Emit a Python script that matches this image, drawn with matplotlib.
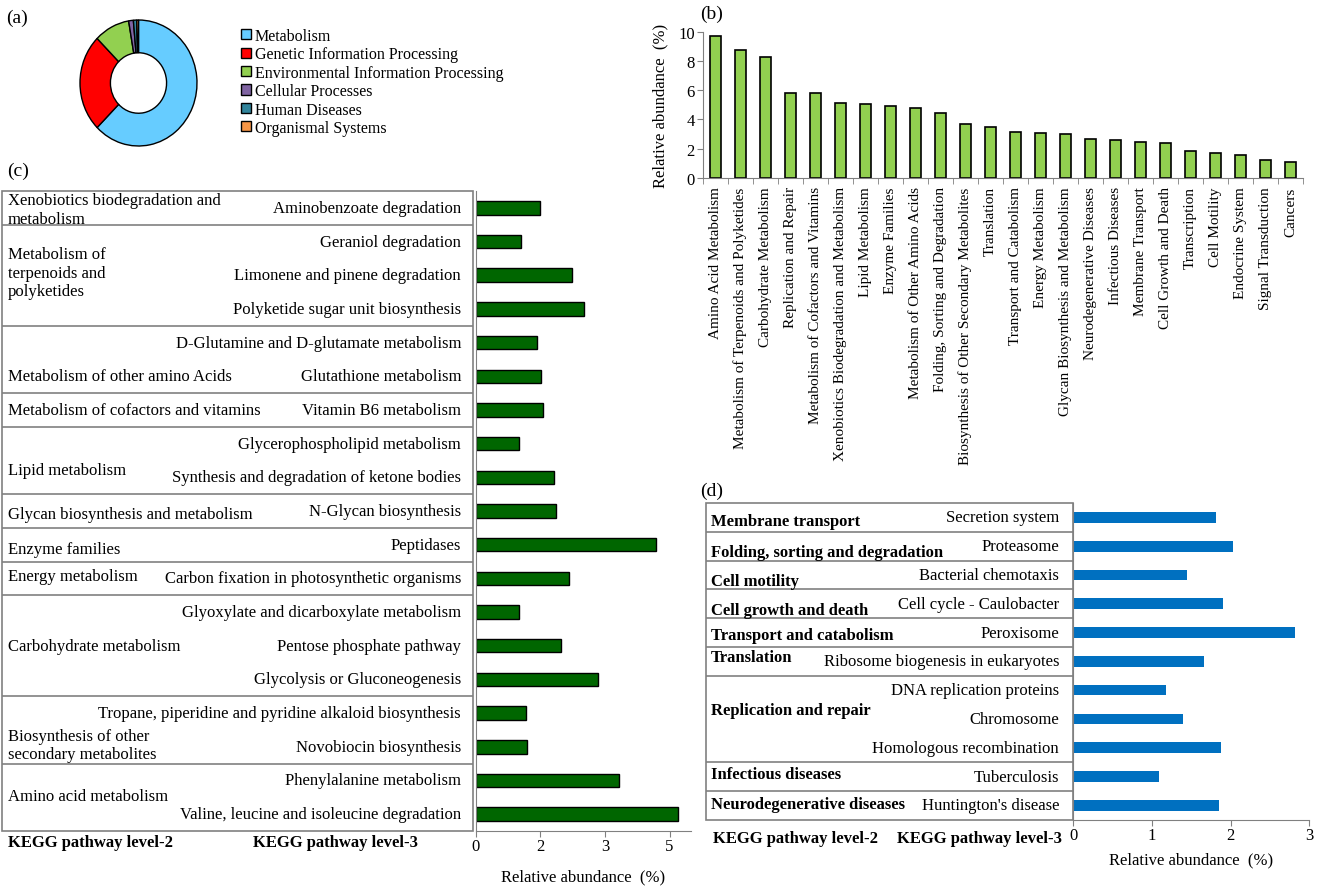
import matplotlib
matplotlib.use("Agg")
import matplotlib.pyplot as plt
from matplotlib.patches import Rectangle

plt.rcParams['font.family'] = ['Liberation Serif', 'DejaVu Serif']

W, H = 1325, 887

# (a) KEGG level-1 share (%)
level1_names = ["Metabolism", "Genetic Information Processing",
                "Environmental Information Processing", "Cellular Processes",
                "Human Diseases", "Organismal Systems"]
level1_share = [62.5, 25.0, 9.8, 1.3, 0.9, 0.5]
level1_colors = ["#66CCFF", "#FF0000", "#92D050", "#8064A2", "#31849B", "#F79646"]

# (b) KEGG level-2 relative abundance (%)
level2_names = ["Amino Acid Metabolism", "Metabolism of Terpenoids and Polyketides",
                "Carbohydrate Metabolism", "Replication and Repair",
                "Metabolism of Cofactors and Vitamins",
                "Xenobiotics Biodegradation and Metabolism", "Lipid Metabolism",
                "Enzyme Families", "Metabolism of Other Amino Acids",
                "Folding, Sorting and Degradation",
                "Biosynthesis of Other Secondary Metabolites", "Translation",
                "Transport and Catabolism", "Energy Metabolism",
                "Glycan Biosynthesis and Metabolism", "Neurodegenerative Diseases",
                "Infectious Diseases", "Membrane Transport", "Cell Growth and Death",
                "Transcription", "Cell Motility", "Endocrine System",
                "Signal Transduction", "Cancers"]
level2_abund = [9.72, 8.78, 8.30, 5.81, 5.81, 5.15, 5.03, 4.94, 4.78, 4.41, 3.71, 3.50,
                3.13, 3.06, 3.02, 2.65, 2.59, 2.47, 2.36, 1.85, 1.74, 1.60, 1.24, 1.10]

# (c) level-2 groups and level-3 pathways
c_groups = ["Xenobiotics biodegradation and\nmetabolism",
            "Metabolism of\nterpenoids and\npolyketides",
            "Metabolism of other amino Acids",
            "Metabolism of cofactors and vitamins",
            "Lipid metabolism",
            "Glycan biosynthesis and metabolism",
            "Enzyme families",
            "Energy metabolism",
            "Carbohydrate metabolism",
            "Biosynthesis of other\nsecondary metabolites",
            "Amino acid metabolism"]
c_group_sizes = [1, 3, 2, 1, 2, 1, 1, 1, 3, 2, 2]
c_pathways = ["Aminobenzoate degradation", "Geraniol degradation",
              "Limonene and pinene degradation", "Polyketide sugar unit biosynthesis",
              "D-Glutamine and D-glutamate metabolism", "Glutathione metabolism",
              "Vitamin B6 metabolism", "Glycerophospholipid metabolism",
              "Synthesis and degradation of ketone bodies", "N-Glycan biosynthesis",
              "Peptidases", "Carbon fixation in photosynthetic organisms",
              "Glyoxylate and dicarboxylate metabolism", "Pentose phosphate pathway",
              "Glycolysis or Gluconeogenesis",
              "Tropane, piperidine and pyridine alkaloid biosynthesis",
              "Novobiocin biosynthesis", "Phenylalanine metabolism",
              "Valine, leucine and isoleucine degradation"]
c_abund = [1.59, 1.12, 2.38, 2.68, 1.51, 1.62, 1.66, 1.08, 1.95, 2.00, 4.47,
           2.31, 1.07, 2.11, 3.02, 1.25, 1.27, 3.55, 5.00]
c_tick_vals = [0, 1.6, 3.2, 4.8]
c_tick_text = ["0", "2", "3", "5"]

# (d)
d_groups = ["Membrane transport", "Folding, sorting and degradation", "Cell motility",
            "Cell growth and death", "Transport and catabolism", "Translation",
            "Replication and repair", "Infectious diseases", "Neurodegenerative diseases"]
d_group_sizes = [1, 1, 1, 1, 1, 1, 3, 1, 1]
d_pathways = ["Secretion system", "Proteasome", "Bacterial chemotaxis",
              "Cell cycle - Caulobacter", "Peroxisome", "Ribosome biogenesis in eukaryotes",
              "DNA replication proteins", "Chromosome", "Homologous recombination",
              "Tuberculosis", "Huntington's disease"]
d_abund = [1.82, 2.03, 1.44, 1.90, 2.82, 1.66, 1.18, 1.40, 1.88, 1.09, 1.85]

# small vertical nudges of the level-2 labels (rows)
c_nudge = [0.05, -0.07, 0.5, 0.0, 0.28, 0.1, 0.12, -0.08, 0.0, 0.45, -0.05]
d_nudge = [0.14, 0.19, 0.22, 0.2, 0.1, -0.14, -0.32, -0.07, -0.05]

GRAY = "#808080"
FS = 12


def box(x0, y0, x1, y1):
    return [x0 / W, 1 - y1 / H, (x1 - x0) / W, (y1 - y0) / H]


def draw_table(ax, groups, sizes, pathways, nudges, l2x, l3x, weight):
    n = len(pathways)
    ax.set_xlim(0, 1)
    ax.set_ylim(n - 0.5, -0.5)
    ax.axis("off")
    ax.add_patch(Rectangle((0, -0.5), 1, n, fill=False, edgecolor=GRAY, lw=1.2,
                           clip_on=False))
    start = 0
    for name, size, nud in zip(groups, sizes, nudges):
        ax.text(l2x, start + (size - 1) / 2 + nud, name, ha="left", va="center",
                fontsize=FS, fontweight=weight, linespacing=1.2)
        start += size
        if start < n:
            ax.plot([0, 1], [start - 0.5] * 2, color=GRAY, lw=1.2)
    for i, p in enumerate(pathways):
        ax.text(l3x, i, p, ha="right", va="center", fontsize=FS)


def style_hbar(ax):
    for s in ["top", "right"]:
        ax.spines[s].set_visible(False)
    for s in ["left", "bottom"]:
        ax.spines[s].set_color(GRAY)
    ax.set_yticks([])
    ax.tick_params(axis="x", length=4, color=GRAY, labelsize=FS, pad=1)


fig = plt.figure(figsize=(W / 100, H / 100), dpi=100)

# ---- (a) donut
axa = fig.add_axes(box(80, 21, 197, 147))
wedges, _ = axa.pie(level1_share, colors=level1_colors, startangle=90,
                    counterclock=False,
                    wedgeprops=dict(width=0.52, edgecolor="black", linewidth=1))
axa.set_aspect("auto")
axa.set_xlim(-1, 1)
axa.set_ylim(-1, 1)
fig.legend(wedges, level1_names, loc="upper left", bbox_to_anchor=(241 / W, 1 - 29 / H),
           frameon=False, fontsize=11.5, handlelength=0.6, handleheight=0.6,
           handletextpad=0.25, labelspacing=0.15, borderpad=0, borderaxespad=0)
fig.text(6 / W, 1 - 18 / H, "(a)", fontsize=14, va="center")

# ---- (b) level-2 bars
axb = fig.add_axes(box(703, 32.7, 1303, 179))
xb = list(range(len(level2_names)))
axb.bar(xb, level2_abund, width=0.42, color="#92D050", edgecolor="black", lw=1.2)
axb.set_xlim(-0.5, len(xb) - 0.5)
axb.set_ylim(0, 10)
axb.set_yticks(range(0, 11, 2))
axb.set_xticks(xb)
axb.set_xticklabels(level2_names, rotation=90, fontsize=11)
axb.set_xticks([i - 0.5 for i in range(len(xb) + 1)], minor=True)
axb.tick_params(axis="x", which="major", length=0, pad=6)
axb.tick_params(axis="x", which="minor", length=4, color=GRAY)
axb.tick_params(axis="y", length=4, color=GRAY, labelsize=FS, pad=2)
for s in ["top", "right"]:
    axb.spines[s].set_visible(False)
for s in ["left", "bottom"]:
    axb.spines[s].set_color(GRAY)
axb.set_ylabel("Relative abundance  (%)", fontsize=FS)
axb.yaxis.set_label_coords(-0.058, 0.5)
fig.text(700 / W, 1 - 14 / H, "(b)", fontsize=14, va="center")

# ---- (c) table + bars
fig.text(7 / W, 1 - 171 / H, "(c)", fontsize=14, va="center")
axct = fig.add_axes(box(2, 192, 472.7, 832))
draw_table(axct, c_groups, c_group_sizes, c_pathways, c_nudge,
           (8 - 2) / 470.7, (461 - 2) / 470.7, "normal")
axc = fig.add_axes(box(475.7, 192, 691, 832))
yc = list(range(len(c_pathways)))
axc.barh(yc, c_abund, height=0.4, color="#006600", edgecolor="black", lw=1)
axc.set_ylim(len(yc) - 0.5, -0.5)
axc.set_xlim(0, 5.33)
axc.set_xticks(c_tick_vals)
axc.set_xticklabels(c_tick_text)
style_hbar(axc)
axc.set_xlabel("Relative abundance  (%)", fontsize=FS)
axc.xaxis.set_label_coords(0.5, -0.059)
fig.text(8 / W, 1 - 843 / H, "KEGG pathway level-2", fontsize=FS,
         fontweight="bold", va="center")
fig.text(253 / W, 1 - 843 / H, "KEGG pathway level-3", fontsize=FS,
         fontweight="bold", va="center")

# ---- (d) table + bars
fig.text(700 / W, 1 - 491 / H, "(d)", fontsize=14, va="center")
axdt = fig.add_axes(box(706, 504, 1073, 820.7))
draw_table(axdt, d_groups, d_group_sizes, d_pathways, d_nudge,
           (711 - 706) / 367, (1059 - 706) / 367, "bold")
axd = fig.add_axes(box(1073.3, 504, 1309.3, 820.7))
yd = list(range(len(d_pathways)))
axd.barh(yd, d_abund, height=0.37, color="#0070C0")
axd.set_ylim(len(yd) - 0.5, -0.5)
axd.set_xlim(0, 3)
axd.set_xticks([0, 1, 2, 3])
style_hbar(axd)
axd.set_xlabel("Relative abundance  (%)", fontsize=FS)
axd.xaxis.set_label_coords(0.5, -0.099)
fig.text(713 / W, 1 - 839 / H, "KEGG pathway level-2", fontsize=FS,
         fontweight="bold", va="center")
fig.text(897 / W, 1 - 839 / H, "KEGG pathway level-3", fontsize=FS,
         fontweight="bold", va="center")

fig.savefig("out.png", dpi=100)
